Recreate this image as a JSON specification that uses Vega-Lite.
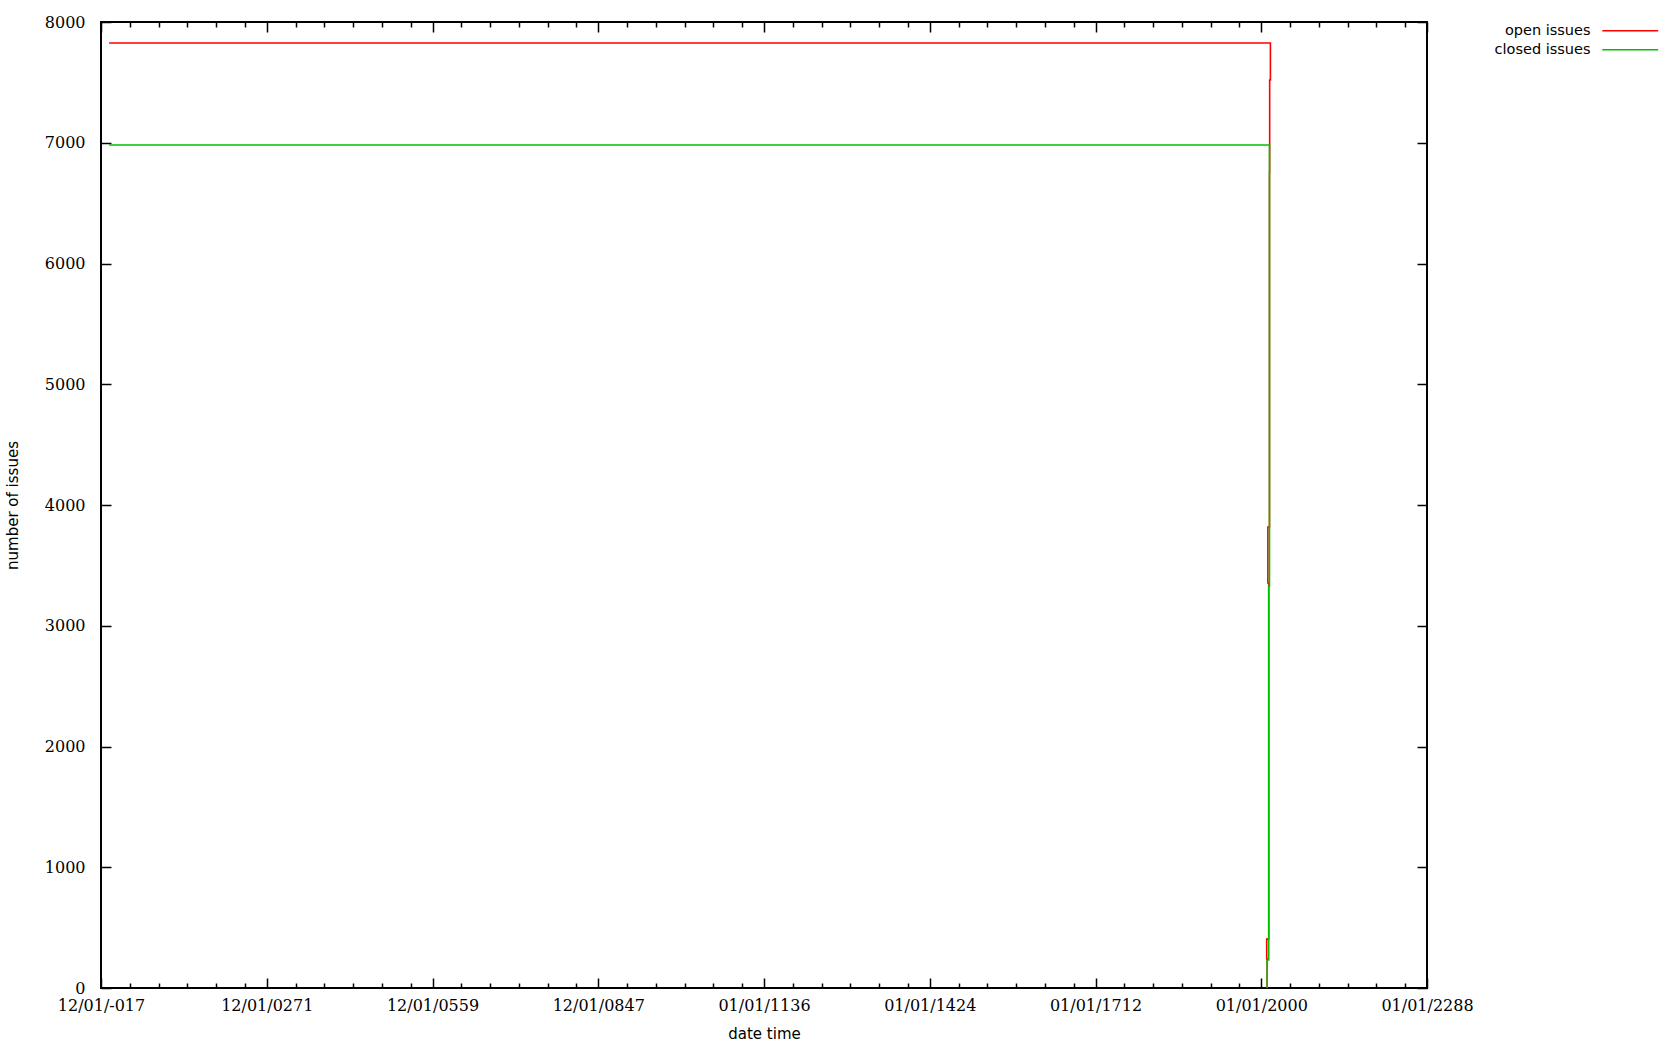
{
  "$schema": "https://vega.github.io/schema/vega-lite/v6.json",
  "autosize": {"type": "none"},
  "padding": {"left": 101, "top": 22, "right": 253, "bottom": 62},
  "width": 1326,
  "height": 966,
  "background": "white",
  "config": {
    "view": {"stroke": "black", "strokeWidth": 2},
    "axis": {"grid": false, "tickColor": "black", "tickWidth": 1.5, "domain": false, "labelColor": "black", "titleColor": "black"}
  },
  "datasets": {
    "lines": [
      {"series": "open issues", "seq": 0, "year": -2, "count": 7826},
      {"series": "open issues", "seq": 1, "year": 2015.9, "count": 7826},
      {"series": "open issues", "seq": 2, "year": 2015.9, "count": 7520},
      {"series": "open issues", "seq": 3, "year": 2014.6, "count": 7520},
      {"series": "open issues", "seq": 4, "year": 2014.6, "count": 6758},
      {"series": "open issues", "seq": 5, "year": 2014.3, "count": 6758},
      {"series": "open issues", "seq": 6, "year": 2014.3, "count": 3818},
      {"series": "open issues", "seq": 7, "year": 2011.5, "count": 3818},
      {"series": "open issues", "seq": 8, "year": 2011.5, "count": 3354},
      {"series": "open issues", "seq": 9, "year": 2013.0, "count": 3354},
      {"series": "open issues", "seq": 10, "year": 2013.0, "count": 405},
      {"series": "open issues", "seq": 11, "year": 2009.5, "count": 405},
      {"series": "open issues", "seq": 12, "year": 2009.5, "count": 240},
      {"series": "open issues", "seq": 13, "year": 2010.3, "count": 240},
      {"series": "open issues", "seq": 14, "year": 2010.3, "count": 0},
      {"series": "closed issues", "seq": 0, "year": -2, "count": 6981},
      {"series": "closed issues", "seq": 1, "year": 2015.9, "count": 6981},
      {"series": "closed issues", "seq": 2, "year": 2014.3, "count": 6981},
      {"series": "closed issues", "seq": 3, "year": 2014.3, "count": 3328},
      {"series": "closed issues", "seq": 4, "year": 2013.0, "count": 3328},
      {"series": "closed issues", "seq": 5, "year": 2013.0, "count": 232},
      {"series": "closed issues", "seq": 6, "year": 2010.3, "count": 232},
      {"series": "closed issues", "seq": 7, "year": 2010.3, "count": 0}
    ]
  },
  "data": {"name": "lines"},
  "resolve": {"scale": {"x": "shared", "y": "shared"}, "axis": {"x": "independent", "y": "independent"}},
  "layer": [
    {
      "transform": [{"filter": "datum.series === 'open issues'"}],
      "mark": {"type": "line", "strokeWidth": 1.6, "interpolate": "linear"},
      "encoding": {
        "x": {"field": "year", "type": "quantitative",
          "scale": {"domain": [-16.08, 2288], "nice": false, "zero": false},
          "axis": {"orient": "bottom", "title": "date time", "ticks": false,
            "values": [-16.08, 271.93, 559.94, 847.95, 1135.96, 1423.97, 1711.98, 1999.99, 2288],
            "labelExpr": "datum.value < 100 ? '12/01/-017' : datum.value < 400 ? '12/01/0271' : datum.value < 700 ? '12/01/0559' : datum.value < 1000 ? '12/01/0847' : datum.value < 1300 ? '01/01/1136' : datum.value < 1600 ? '01/01/1424' : datum.value < 1850 ? '01/01/1712' : datum.value < 2150 ? '01/01/2000' : '01/01/2288'",
            "labelFont": "DejaVu Serif", "labelFontSize": 16, "labelPadding": 9, "labelFlush": false, "labelOverlap": false,
            "titleFont": "DejaVu Sans", "titleFontSize": 15, "titleFontWeight": "normal", "titlePadding": 13}},
        "y": {"field": "count", "type": "quantitative",
          "scale": {"domain": [0, 8000], "nice": false, "zero": true},
          "axis": {"orient": "left", "title": "number of issues", "ticks": false,
            "values": [0, 1000, 2000, 3000, 4000, 5000, 6000, 7000, 8000], "format": "d",
            "labelFont": "DejaVu Serif", "labelFontSize": 16, "labelPadding": 16, "labelOverlap": false, "labelFlush": false,
            "titleFont": "DejaVu Sans", "titleFontSize": 15, "titleFontWeight": "normal", "titlePadding": 24}},
        "color": {"field": "series", "type": "nominal",
          "scale": {"domain": ["open issues", "closed issues"], "range": ["#ff0000", "#00c000"]},
          "legend": {"orient": "none", "legendX": 1522, "legendY": 1.5, "title": null, "padding": 0,
            "symbolType": "M-5,0H5", "symbolSize": 125, "symbolStrokeWidth": 1.6,
            "labelAlign": "right", "labelOffset": -47, "labelFont": "DejaVu Sans", "labelFontSize": 14.5, "labelColor": "black", "rowPadding": 4}},
        "order": {"field": "seq", "type": "quantitative"}
      }
    },
    {
      "transform": [{"filter": "datum.series === 'closed issues'"}],
      "mark": {"type": "line", "strokeWidth": 1.6, "interpolate": "linear"},
      "encoding": {
        "x": {"field": "year", "type": "quantitative", "axis": null},
        "y": {"field": "count", "type": "quantitative", "axis": null},
        "color": {"field": "series", "type": "nominal"},
        "order": {"field": "seq", "type": "quantitative"}
      }
    },
    {
      "mark": {"type": "line", "opacity": 0},
      "encoding": {
        "x": {"field": "year", "type": "quantitative",
          "axis": {"orient": "bottom", "title": null, "labels": false, "tickSize": -10,
            "values": [-16.08, 271.93, 559.94, 847.95, 1135.96, 1423.97, 1711.98, 1999.99, 2288]}},
        "y": {"field": "count", "type": "quantitative",
          "axis": {"orient": "left", "title": null, "labels": false, "tickSize": -10,
            "values": [0, 1000, 2000, 3000, 4000, 5000, 6000, 7000, 8000]}},
        "detail": {"field": "series"}
      }
    },
    {
      "mark": {"type": "line", "opacity": 0},
      "encoding": {
        "x": {"field": "year", "type": "quantitative",
          "axis": {"orient": "bottom", "title": null, "labels": false, "tickSize": -5,
            "values": [33.92, 83.92, 133.92, 183.92, 233.92, 321.93, 371.93, 421.93, 471.93, 521.93, 609.94, 659.94, 709.94, 759.94, 809.94, 897.95, 947.95, 997.95, 1047.95, 1097.95, 1185.96, 1235.96, 1285.96, 1335.96, 1385.96, 1473.97, 1523.97, 1573.97, 1623.97, 1673.97, 1761.98, 1811.98, 1861.98, 1911.98, 1961.98, 2049.99, 2099.99, 2149.99, 2199.99, 2249.99]}},
        "y": {"field": "count", "type": "quantitative",
          "axis": {"orient": "right", "title": null, "labels": false, "tickSize": -10,
            "values": [0, 1000, 2000, 3000, 4000, 5000, 6000, 7000, 8000]}},
        "detail": {"field": "series"}
      }
    },
    {
      "mark": {"type": "line", "opacity": 0},
      "encoding": {
        "x": {"field": "year", "type": "quantitative",
          "axis": {"orient": "top", "title": null, "labels": false, "tickSize": -10,
            "values": [-16.08, 271.93, 559.94, 847.95, 1135.96, 1423.97, 1711.98, 1999.99, 2288]}},
        "y": {"field": "count", "type": "quantitative", "axis": null},
        "detail": {"field": "series"}
      }
    },
    {
      "mark": {"type": "line", "opacity": 0},
      "encoding": {
        "x": {"field": "year", "type": "quantitative",
          "axis": {"orient": "top", "title": null, "labels": false, "tickSize": -5,
            "values": [33.92, 83.92, 133.92, 183.92, 233.92, 321.93, 371.93, 421.93, 471.93, 521.93, 609.94, 659.94, 709.94, 759.94, 809.94, 897.95, 947.95, 997.95, 1047.95, 1097.95, 1185.96, 1235.96, 1285.96, 1335.96, 1385.96, 1473.97, 1523.97, 1573.97, 1623.97, 1673.97, 1761.98, 1811.98, 1861.98, 1911.98, 1961.98, 2049.99, 2099.99, 2149.99, 2199.99, 2249.99]}},
        "y": {"field": "count", "type": "quantitative", "axis": null},
        "detail": {"field": "series"}
      }
    }
  ]
}
